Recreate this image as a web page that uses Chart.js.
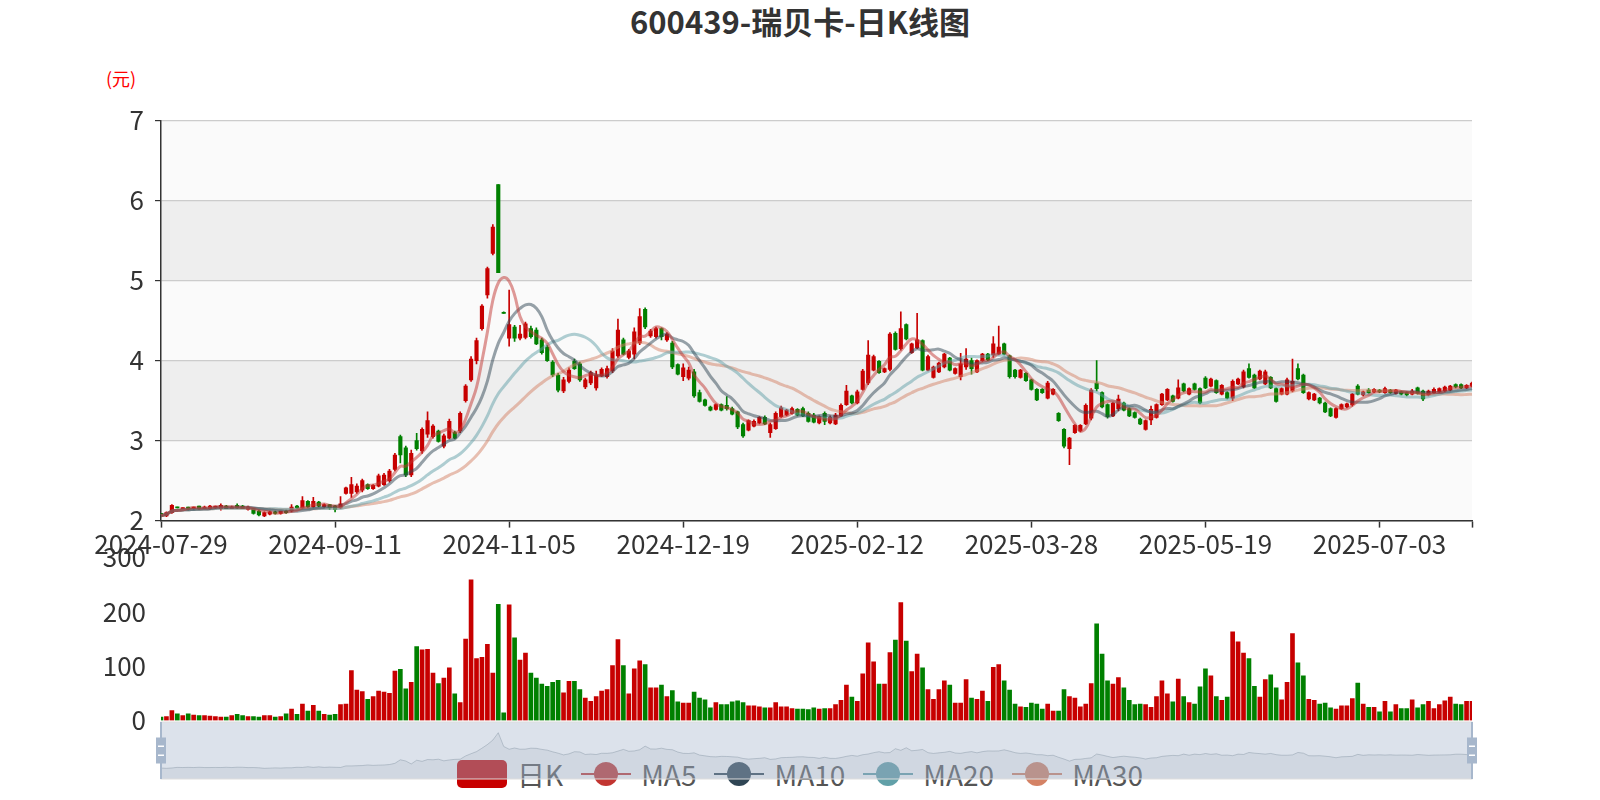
<!DOCTYPE html>
<html>
<head>
<meta charset="utf-8">
<script src="https://cdn.jsdelivr.net/npm/chart.js@4.4.1/dist/chart.umd.min.js"></script>
<style>
body{margin:0;background:#fff;font-family:"Noto Sans CJK SC",sans-serif}
#wrap{position:relative;width:1600px;height:800px;overflow:hidden;background:#fff}
.box{position:absolute;left:0}
#title{position:absolute;left:0;top:-2px;width:1600px;height:46px;line-height:46px;text-align:center;font-weight:bold;font-size:31px;color:#333}
#unit{position:absolute;left:106px;top:66px;font-size:18px;line-height:24px;color:#f00}
#legend{position:absolute;left:0;top:759px;width:1600px;height:30px;display:flex;justify-content:center;align-items:center;z-index:1}
.item{display:flex;align-items:center;margin:0 9px}
.icon{position:relative;width:50px;height:28px}
.label{margin-left:10px;font-size:28px;line-height:30px;color:#555}
#zoomBox{z-index:2}
</style>
</head>
<body>
<div id="wrap">
  <div id="title">600439-瑞贝卡-日K线图</div>
  <div id="unit">(元)</div>
  <div class="box" style="top:94px"><canvas id="price" width="1600" height="476"></canvas></div>
  <div class="box" style="top:535px"><canvas id="vol" width="1600" height="208"></canvas></div>
  <div id="legend"></div>
  <div class="box" id="zoomBox" style="top:712px"><canvas id="zoom" width="1600" height="80"></canvas></div>
</div>
<script>
// trading calendar: weekdays from the first date, minus exchange holidays
const firstDay = '2024-07-29';
const dayCount = 242;
const holidays = ['2024-09-16','2024-09-17','2024-10-01','2024-10-02','2024-10-03','2024-10-04','2024-10-07',
  '2025-01-01','2025-01-28','2025-01-29','2025-01-30','2025-01-31','2025-02-03','2025-02-04',
  '2025-04-04','2025-05-01','2025-05-02','2025-05-05','2025-06-02'];

const openPrices = [
  2.09,2.06,2.10,2.17,2.15,2.17,2.15,2.18,2.15,2.15,
  2.16,2.15,2.18,2.15,2.19,2.18,2.14,2.15,2.12,2.06,
  2.08,2.11,2.09,2.12,2.12,2.18,2.16,2.24,2.17,2.23,
  2.17,2.20,2.18,2.16,2.34,2.34,2.36,2.38,2.45,2.40,
  2.43,2.45,2.50,2.64,3.05,2.91,2.57,3.00,2.87,3.08,
  3.05,3.12,2.93,3.03,3.10,3.12,3.50,3.76,4.00,4.40,
  4.82,5.34,6.20,4.60,4.28,4.42,4.28,4.29,4.40,4.38,
  4.26,4.17,3.98,3.82,3.62,3.74,3.99,3.96,3.67,3.72,
  3.66,3.81,3.80,3.87,4.06,4.26,4.04,4.08,4.22,4.64,
  4.31,4.30,4.40,4.26,4.22,3.95,3.80,3.78,3.86,3.60,
  3.51,3.42,3.39,3.45,3.44,3.40,3.36,3.20,3.13,3.18,
  3.22,3.29,3.10,3.15,3.30,3.32,3.34,3.39,3.40,3.34,
  3.32,3.22,3.34,3.22,3.21,3.31,3.45,3.56,3.47,3.64,
  3.72,3.88,3.99,3.86,3.89,4.34,4.15,4.45,4.10,4.16,
  4.25,3.88,3.79,3.86,3.92,4.03,3.84,3.80,3.92,4.00,
  3.86,4.00,4.08,4.07,4.08,4.21,4.06,3.88,3.79,3.84,
  3.76,3.64,3.64,3.53,3.58,3.34,3.14,2.90,3.10,3.12,
  3.21,3.28,3.72,3.60,3.45,3.31,3.40,3.47,3.40,3.35,
  3.27,3.14,3.26,3.29,3.45,3.51,3.56,3.53,3.71,3.58,
  3.71,3.65,3.78,3.68,3.75,3.58,3.60,3.53,3.71,3.67,
  3.90,3.82,3.77,3.71,3.79,3.65,3.58,3.58,3.62,3.90,
  3.82,3.52,3.51,3.53,3.47,3.40,3.29,3.40,3.42,3.45,
  3.68,3.57,3.63,3.61,3.63,3.60,3.63,3.59,3.61,3.60,
  3.58,3.66,3.62,3.57,3.60,3.61,3.62,3.63,3.70,3.70,
  3.66,3.68
];
const closePrices = [
  2.06,2.10,2.19,2.16,2.16,2.14,2.17,2.15,2.17,2.18,
  2.18,2.19,2.15,2.17,2.16,2.15,2.17,2.09,2.07,2.10,
  2.11,2.09,2.12,2.10,2.17,2.16,2.25,2.17,2.24,2.18,
  2.20,2.16,2.14,2.21,2.41,2.45,2.43,2.50,2.40,2.44,
  2.56,2.57,2.62,2.82,2.82,2.57,2.84,2.90,3.14,3.25,
  3.18,2.99,3.06,3.24,3.03,3.34,3.68,4.02,4.25,4.68,
  5.15,5.67,5.10,4.59,4.45,4.28,4.33,4.46,4.30,4.21,
  4.10,4.00,3.82,3.63,3.76,3.88,3.90,3.76,3.76,3.85,
  3.82,3.89,3.90,4.12,4.38,4.08,4.12,4.36,4.55,4.42,
  4.37,4.40,4.30,4.33,3.92,3.83,3.91,3.88,3.56,3.49,
  3.44,3.38,3.45,3.38,3.40,3.33,3.17,3.06,3.25,3.24,
  3.29,3.21,3.20,3.34,3.41,3.38,3.40,3.32,3.31,3.24,
  3.23,3.30,3.24,3.29,3.32,3.44,3.62,3.47,3.61,3.87,
  4.07,4.05,3.85,3.90,4.33,4.14,4.40,4.27,4.21,4.26,
  3.88,4.05,3.92,3.97,4.08,3.88,3.90,3.96,4.02,3.90,
  4.00,4.08,4.01,4.21,4.17,4.08,3.80,3.80,3.88,3.75,
  3.64,3.51,3.60,3.72,3.64,3.25,2.93,3.03,3.19,3.19,
  3.44,3.63,3.65,3.42,3.30,3.47,3.52,3.38,3.31,3.29,
  3.21,3.25,3.39,3.45,3.58,3.64,3.49,3.66,3.62,3.65,
  3.64,3.47,3.66,3.77,3.60,3.69,3.53,3.74,3.77,3.86,
  3.79,3.66,3.87,3.86,3.66,3.49,3.65,3.76,3.74,3.77,
  3.60,3.60,3.58,3.47,3.36,3.31,3.40,3.45,3.46,3.58,
  3.58,3.61,3.60,3.64,3.61,3.65,3.60,3.63,3.58,3.57,
  3.62,3.59,3.52,3.62,3.64,3.65,3.67,3.68,3.67,3.66,
  3.69,3.72
];
const lowPrices = [
  2.05,2.05,2.09,2.16,2.15,2.13,2.14,2.14,2.15,2.14,
  2.15,2.13,2.15,2.15,2.15,2.15,2.13,2.08,2.06,2.05,
  2.07,2.08,2.08,2.09,2.11,2.15,2.15,2.16,2.16,2.17,
  2.16,2.14,2.11,2.15,2.33,2.29,2.34,2.36,2.39,2.39,
  2.42,2.44,2.48,2.62,2.72,2.55,2.55,2.88,2.84,3.04,
  3.03,2.98,2.91,3.02,3.02,3.10,3.48,3.74,3.96,4.38,
  4.78,5.32,5.10,4.59,4.18,4.24,4.26,4.27,4.28,4.20,
  4.08,3.99,3.80,3.61,3.60,3.72,3.89,3.74,3.65,3.70,
  3.63,3.80,3.78,3.85,4.04,4.07,4.02,4.02,4.20,4.40,
  4.29,4.28,4.26,4.24,3.90,3.82,3.75,3.76,3.54,3.48,
  3.43,3.37,3.38,3.37,3.38,3.32,3.15,3.04,3.12,3.17,
  3.21,3.20,3.04,3.14,3.29,3.31,3.33,3.31,3.30,3.23,
  3.22,3.21,3.20,3.21,3.20,3.30,3.44,3.46,3.46,3.63,
  3.70,3.87,3.84,3.85,3.87,4.13,4.13,4.26,4.09,4.15,
  3.87,3.87,3.78,3.85,3.91,3.87,3.83,3.76,3.89,3.83,
  3.85,3.99,4.00,4.04,4.07,4.07,3.78,3.78,3.78,3.74,
  3.63,3.50,3.59,3.52,3.57,3.24,2.91,2.70,3.09,3.11,
  3.20,3.26,3.62,3.41,3.28,3.30,3.37,3.37,3.30,3.28,
  3.20,3.13,3.20,3.28,3.44,3.50,3.48,3.52,3.61,3.57,
  3.63,3.46,3.65,3.67,3.59,3.57,3.52,3.50,3.70,3.66,
  3.78,3.65,3.76,3.70,3.65,3.48,3.57,3.57,3.61,3.76,
  3.59,3.51,3.50,3.46,3.35,3.30,3.28,3.39,3.41,3.43,
  3.57,3.56,3.59,3.60,3.60,3.59,3.59,3.58,3.57,3.56,
  3.57,3.58,3.50,3.56,3.59,3.60,3.61,3.62,3.66,3.65,
  3.65,3.67
];
const highPrices = [
  2.09,2.11,2.20,2.17,2.16,2.17,2.17,2.18,2.18,2.19,
  2.18,2.21,2.19,2.18,2.21,2.19,2.18,2.15,2.13,2.11,
  2.12,2.12,2.12,2.13,2.20,2.19,2.30,2.25,2.29,2.24,
  2.21,2.20,2.19,2.30,2.42,2.54,2.46,2.52,2.46,2.45,
  2.58,2.59,2.64,2.84,3.07,2.93,2.88,3.09,3.16,3.36,
  3.20,3.13,3.08,3.27,3.12,3.36,3.70,4.05,4.28,4.70,
  5.17,5.70,6.20,4.61,4.88,4.44,4.44,4.48,4.43,4.41,
  4.28,4.19,4.00,3.84,3.79,3.91,4.02,3.98,3.78,3.87,
  3.87,3.91,3.93,4.15,4.52,4.28,4.14,4.41,4.65,4.66,
  4.39,4.42,4.41,4.35,4.24,3.96,3.96,3.92,3.89,3.63,
  3.52,3.43,3.46,3.46,3.55,3.42,3.37,3.22,3.26,3.26,
  3.30,3.31,3.22,3.36,3.43,3.39,3.42,3.40,3.42,3.36,
  3.34,3.31,3.36,3.31,3.34,3.46,3.69,3.57,3.63,3.89,
  4.25,4.07,4.00,3.91,4.35,4.36,4.61,4.46,4.22,4.59,
  4.26,4.07,3.93,3.98,4.09,4.04,3.91,4.09,4.15,4.03,
  4.01,4.09,4.09,4.30,4.43,4.22,4.07,3.89,3.89,3.85,
  3.77,3.65,3.65,3.74,3.65,3.35,3.15,3.04,3.20,3.20,
  3.46,3.65,4.00,3.61,3.46,3.48,3.57,3.48,3.41,3.36,
  3.28,3.26,3.43,3.46,3.59,3.65,3.57,3.76,3.72,3.66,
  3.72,3.66,3.80,3.78,3.76,3.70,3.61,3.76,3.78,3.88,
  3.96,3.83,3.88,3.88,3.80,3.66,3.66,3.78,4.02,3.96,
  3.83,3.61,3.59,3.54,3.48,3.41,3.41,3.46,3.47,3.59,
  3.70,3.62,3.65,3.65,3.64,3.67,3.64,3.64,3.62,3.61,
  3.64,3.67,3.63,3.63,3.66,3.66,3.68,3.69,3.71,3.71,
  3.70,3.73
];
const volumes = [
  6,7,18,12,9,12,10,9,9,8,
  7,6,6,9,11,9,7,7,6,9,
  9,6,7,12,21,11,30,17,28,17,
  11,10,11,29,30,92,56,53,39,44,
  54,52,50,91,94,58,70,136,130,131,
  87,68,78,97,49,33,150,259,114,116,
  140,87,214,14,213,152,111,124,87,78,
  67,63,70,74,51,72,72,57,41,35,
  44,54,57,101,149,101,49,95,110,103,
  60,60,65,44,55,34,32,32,52,41,
  38,23,33,29,29,34,36,33,27,27,
  25,23,23,33,25,25,22,21,21,20,
  23,21,22,22,29,37,65,43,35,86,
  143,108,67,67,125,148,217,146,90,122,
  97,57,39,57,73,65,32,32,75,41,
  39,54,35,98,103,73,56,30,25,24,
  32,30,21,30,17,17,57,44,41,25,
  30,68,178,122,73,67,79,60,37,29,
  30,29,24,44,73,49,34,76,44,33,
  30,62,95,82,44,37,43,163,145,124,
  114,63,43,75,84,60,38,70,160,106,
  82,39,37,30,32,23,21,27,27,40,
  69,30,24,24,16,35,16,29,22,22,
  38,23,29,35,22,29,36,43,30,29,
  35,35
];
const priceTicks = [2, 3, 4, 5, 6, 7];
const volumeTicks = [0, 100, 200, 300];
const maNames = ['MA5', 'MA10', 'MA20', 'MA30'];
const maWindows = [5, 10, 20, 30];
const maColors = ['#c23531', '#2f4554', '#61a0a8', '#d48265'];
const maLineColors = ['rgba(194,53,49,0.5)', 'rgba(47,69,84,0.5)', 'rgba(97,160,168,0.5)', 'rgba(212,130,101,0.5)'];

const UP = '#c70000', DOWN = '#008000';
const labelEvery = 32;
const FONT = '"Noto Sans CJK SC", sans-serif';

function tradingDays(start, n, skip){
  const out = [];
  const d = new Date(start + 'T00:00:00Z');
  while(out.length < n){
    const s = d.toISOString().slice(0, 10);
    const wd = d.getUTCDay();
    if(wd !== 0 && wd !== 6 && !skip.includes(s)) out.push(s);
    d.setUTCDate(d.getUTCDate() + 1);
  }
  return out;
}

function movingAvg(src, n){
  return src.map((_, i) => {
    const part = src.slice(Math.max(0, i - n + 1), i + 1);
    return +(part.reduce((a, b) => a + b, 0) / part.length).toFixed(3);
  });
}

const dates = tradingDays(firstDay, dayCount, holidays);
const candleColors = closePrices.map((c, i) => c >= openPrices[i] ? UP : DOWN);

Chart.defaults.font.family = FONT;
Chart.defaults.animation = false;

const bandPlugin = {
  id: 'bands',
  beforeDraw(chart){
    const {ctx, chartArea: a, scales: {y}} = chart;
    ctx.save();
    for(let k = 0; k < priceTicks.length - 1; k++){
      const top = y.getPixelForValue(priceTicks[k + 1]), bot = y.getPixelForValue(priceTicks[k]);
      ctx.fillStyle = k % 2 ? '#eeeeee' : '#fafafa';
      ctx.fillRect(a.left, top, a.right - a.left, bot - top);
    }
    ctx.restore();
  }
};

const showTick = i => i % labelEvery === 0 || i === dayCount - 1;

new Chart(document.getElementById('price'), {
  type: 'bar',
  data: {
    labels: dates,
    datasets: [
      ...maNames.map((name, k) => ({
        type: 'line', label: name, data: movingAvg(closePrices, maWindows[k]),
        borderColor: maLineColors[k], borderWidth: 3, pointRadius: 0, tension: 0.4, order: 1
      })),
      {label: 'wick', data: lowPrices.map((l, i) => [l, highPrices[i]]), backgroundColor: candleColors,
       barThickness: 1, grouped: false, order: 3},
      {label: '日K', data: openPrices.map((o, i) => [Math.min(o, closePrices[i]), Math.max(o, closePrices[i])]),
       backgroundColor: candleColors, barThickness: 3.5, minBarLength: 1, grouped: false, order: 2}
    ]
  },
  options: {
    responsive: false,
    events: [],
    layout: {padding: {top: 0, right: 128, bottom: 0, left: 0}},
    plugins: {legend: {display: false}, tooltip: {enabled: false}},
    scales: {
      x: {
        offset: false,
        grid: {offset: false, drawOnChartArea: false, tickLength: 7, tickColor: c => showTick(c.index) ? '#333' : 'rgba(0,0,0,0)', tickWidth: 1.5},
        border: {display: true, color: '#333', width: 1.5},
        ticks: {autoSkip: false, maxRotation: 0, minRotation: 0, padding: 1, color: '#333', font: {size: 26},
                callback: (v, i) => i % labelEvery === 0 ? dates[i] : ''},
        afterFit: s => { s.height = 49.4; }
      },
      y: {
        min: 2, max: 7,
        afterBuildTicks: s => { s.ticks = priceTicks.map(v => ({value: v})); },
        grid: {color: '#cccccc', lineWidth: 1.2, tickLength: 6, tickColor: '#333'},
        border: {display: true, color: '#333', width: 1.5},
        ticks: {padding: 11, color: '#333', font: {size: 26}},
        afterFit: s => { s.width = 161; }
      }
    }
  },
  plugins: [bandPlugin]
});

new Chart(document.getElementById('vol'), {
  type: 'bar',
  data: {
    labels: dates,
    datasets: [{label: 'volume', data: volumes, backgroundColor: candleColors, barThickness: 4}]
  },
  options: {
    responsive: false,
    events: [],
    layout: {padding: {top: 0, right: 128, bottom: 0, left: 0}},
    plugins: {legend: {display: false}, tooltip: {enabled: false}},
    scales: {
      x: {display: false, offset: false},
      y: {
        min: 0, max: 300,
        afterBuildTicks: s => { s.ticks = volumeTicks.map(v => ({value: v})); },
        grid: {display: false},
        border: {display: false},
        ticks: {padding: 7, color: '#333', font: {size: 26}},
        afterFit: s => { s.width = 161; }
      }
    }
  }
});

// data zoom strip: shadow of the first value (open), full range selected
const sMin = Math.min(...openPrices), sMax = Math.max(...openPrices);
const pad = (sMax - sMin) * 0.3;

const sliderPlugin = {
  id: 'slider',
  afterDatasetsDraw(chart){
    const {ctx, chartArea: a} = chart;
    ctx.save();
    ctx.fillStyle = 'rgba(167,183,204,0.4)';
    ctx.fillRect(a.left, a.top, a.right - a.left, a.bottom - a.top);
    ctx.strokeStyle = '#dddddd';
    ctx.lineWidth = 1;
    ctx.strokeRect(a.left, a.top, a.right - a.left, a.bottom - a.top);
    const mid = (a.top + a.bottom) / 2;
    [a.left, a.right].forEach(x => {
      ctx.fillStyle = '#a7b7cc';
      ctx.fillRect(x - 1, a.top, 2, a.bottom - a.top);
      ctx.fillRect(x - 5, mid - 13, 10, 26);
      ctx.fillStyle = '#ffffff';
      ctx.fillRect(x - 3, mid - 5, 6, 1.5);
      ctx.fillRect(x - 3, mid + 4, 6, 1.5);
    });
    ctx.restore();
  }
};

new Chart(document.getElementById('zoom'), {
  type: 'line',
  data: {
    labels: dates,
    datasets: [{data: openPrices, borderColor: 'rgba(47,69,84,0.3)', borderWidth: 1, pointRadius: 0,
                fill: 'start', backgroundColor: 'rgba(47,69,84,0.1)', tension: 0}]
  },
  options: {
    responsive: false,
    events: [],
    layout: {padding: {top: 10, right: 128, bottom: 13, left: 161}},
    plugins: {legend: {display: false}, tooltip: {enabled: false}},
    scales: {
      x: {display: false, offset: false},
      y: {display: false, min: sMin - pad, max: sMax + pad}
    }
  },
  plugins: [sliderPlugin]
});

// legend
const legend = document.getElementById('legend');
const kItem = document.createElement('div');
kItem.className = 'item';
kItem.innerHTML = `<div class="icon" style="background:${UP};border-radius:5px"></div><span class="label">日K</span>`;
legend.appendChild(kItem);
maNames.forEach((name, k) => {
  const it = document.createElement('div');
  it.className = 'item';
  it.innerHTML = `<div class="icon"><div style="position:absolute;left:0;right:0;top:13px;height:2px;background:${maColors[k]}"></div>` +
    `<div style="position:absolute;left:13px;top:2px;width:24px;height:24px;border-radius:50%;background:${maColors[k]}"></div></div>` +
    `<span class="label">${name}</span>`;
  legend.appendChild(it);
});
</script>
</body>
</html>
